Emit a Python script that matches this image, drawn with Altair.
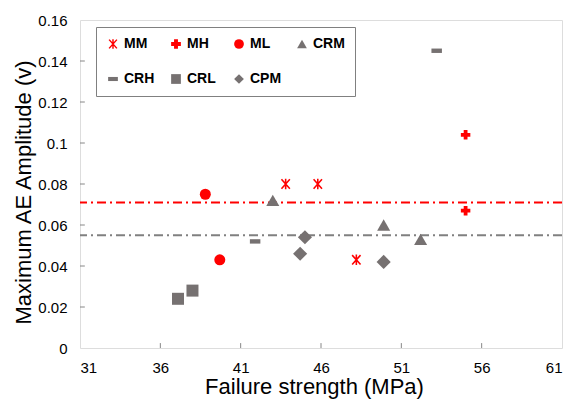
import altair as alt
import pandas as pd

# ---- data ----
series_order = ["MM", "MH", "ML", "CRM", "CRH", "CRL", "CPM"]
series_colors = ["#FF0000", "#FF0000", "#FF0000", "#767171", "#767171", "#767171", "#767171"]

mm_x = [43.8, 45.8, 48.2]
mm_y = [0.080, 0.080, 0.043]
mh_x = [55.0, 55.0]
mh_y = [0.104, 0.067]
ml_x = [38.8, 39.7]
ml_y = [0.075, 0.043]
crm_x = [43.0, 49.9, 52.2]
crm_y = [0.072, 0.060, 0.053]
crh_x = [53.2, 41.9]
crh_y = [0.145, 0.052]
crl_x = [37.1, 38.0]
crl_y = [0.024, 0.028]
cpm_x = [44.7, 45.0, 49.9]
cpm_y = [0.046, 0.054, 0.042]

thresholds = [0.071, 0.055]
threshold_colors = ["#FF0000", "#808080"]

x_ticks = [31, 36, 41, 46, 51, 56, 61]
y_ticks = [0, 0.02, 0.04, 0.06, 0.08, 0.10, 0.12, 0.14, 0.16]

rows = []
for name, xs, ys in [("MM", mm_x, mm_y), ("MH", mh_x, mh_y), ("ML", ml_x, ml_y),
                     ("CRM", crm_x, crm_y), ("CRH", crh_x, crh_y), ("CRL", crl_x, crl_y),
                     ("CPM", cpm_x, cpm_y)]:
    for a, b in zip(xs, ys):
        rows.append({"series": name, "x": a, "y": b})
df = pd.DataFrame(rows)

thr_df = pd.DataFrame({"y": thresholds, "c": threshold_colors})
xt_df = pd.DataFrame({"x": x_ticks[1:-1]})
yt_df = pd.DataFrame({"y": y_ticks[1:-1]})

FONT = "Liberation Sans"
W, H = 482, 328

asterisk = ("M-0.15,-1H0.15V1H-0.15Z"
            "M-0.688,-1L0.912,0.8L0.688,1L-0.912,-0.8Z"
            "M0.912,-0.8L-0.688,1L-0.912,0.8L0.688,-1Z")
dash = "M-1,-0.42H1V0.42H-1Z"
shapes = [asterisk, "cross", "circle", "triangle-up", dash, "square", "diamond"]

size_enc = (
    alt.when(alt.datum.series == "CRM").then(alt.value(170))
    .when(alt.datum.series == "CPM").then(alt.value(200))
    .when(alt.datum.series == "CRL").then(alt.value(144))
    .when(alt.datum.series == "ML").then(alt.value(121))
    .when(alt.datum.series == "MH").then(alt.value(90))
    .otherwise(alt.value(110))
)

xscale = alt.Scale(domain=[31, 61], nice=False, zero=False)
yscale = alt.Scale(domain=[0, 0.16], nice=False)

x_axis = alt.Axis(values=x_ticks, title="Failure strength (MPa)", ticks=False, domain=False,
                  grid=False, labelFont=FONT, labelFontSize=15, labelColor="#000000",
                  labelPadding=12, titleFont=FONT, titleFontSize=22, titleFontWeight="normal",
                  titleColor="#000000", titleX=234, titleY=45, titleAlign="center",
                  titleBaseline="alphabetic")
y_axis = alt.Axis(values=y_ticks, title="Maximum AE Amplitude (v)", format="~g", ticks=False,
                  domain=False, grid=False, labelFont=FONT, labelFontSize=15,
                  labelColor="#000000", labelPadding=13, titleFont=FONT, titleFontSize=22,
                  titleFontWeight="normal", titleColor="#000000", titleX=-57, titleY=172,
                  titleAngle=270, titleBaseline="middle", titleAlign="center")

legend = alt.Legend(orient="none", legendX=16, legendY=7, columns=4, direction="horizontal",
                    title=None, labelFont=FONT, labelFontSize=14, labelFontWeight="bold",
                    labelColor="#000000", symbolSize=95, symbolStrokeWidth=0,
                    padding=10, strokeColor="#808080", fillColor="#FFFFFF",
                    columnPadding=13, rowPadding=21, gridAlign="all", labelOffset=4)

points = alt.Chart(df).mark_point(filled=True, opacity=1).encode(
    x=alt.X("x:Q", scale=xscale, axis=x_axis),
    y=alt.Y("y:Q", scale=yscale, axis=y_axis),
    color=alt.Color("series:N", scale=alt.Scale(domain=series_order, range=series_colors),
                    legend=legend),
    shape=alt.Shape("series:N", scale=alt.Scale(domain=series_order, range=shapes),
                    legend=legend),
    size=size_enc,
)

lines = alt.Chart(thr_df).mark_rule(strokeWidth=2, strokeDash=[9, 4, 2, 4]).encode(
    y=alt.Y("y:Q", scale=yscale),
    color=alt.Color("c:N", scale=None),
)

xt = alt.Chart(xt_df).mark_rule(color="#868686", strokeWidth=1).encode(
    x=alt.X("x:Q", scale=xscale),
    y=alt.datum(0),
    y2=alt.datum(0.0024),
)
yt = alt.Chart(yt_df).mark_rule(color="#868686", strokeWidth=1).encode(
    y=alt.Y("y:Q", scale=yscale),
    x=alt.datum(31),
    x2=alt.datum(31.3),
)

chart = alt.layer(lines, xt, yt, points).properties(
    width=W, height=H,
    autosize=alt.AutoSizeParams(type="none"),
    padding={"left": 80, "top": 20, "right": 8, "bottom": 52},
).configure_view(stroke="#868686", strokeWidth=1.2).configure(background="white")

chart.save("out.html", embed_options={"renderer": "svg", "actions": False})
